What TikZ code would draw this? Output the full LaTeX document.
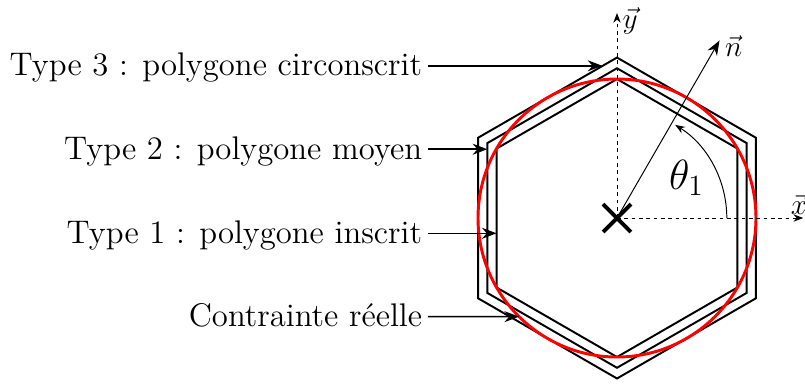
\documentclass[tikz,border=0pt]{standalone}
\usetikzlibrary{arrows.meta}
\begin{document}
\begin{tikzpicture}[thick,
		>={Stealth[length=6pt, width=4.5pt]},
		type/.style={anchor=east, inner sep=2pt, font=\fontsize{13.4}{16}\selectfont, text depth=.25ex},
		axe/.style={thin, dash pattern=on 1.5pt off 1.5pt, -{Stealth[length=4pt]}}
		]
	\useasboundingbox (-8.878,-2.374) rectangle (2.705,3.137);
	% polygones puis contrainte reelle
	\foreach \r in {2, 2.155, 2.309}
		\draw (90:\r) -- (150:\r) -- (210:\r) -- (270:\r) -- (330:\r) -- (30:\r) -- cycle;
	\draw[red, very thick] (0,0) circle (2);
	% repere
	\coordinate (o) at (0,0);
	\coordinate (xe) at (2.68,0);
	\coordinate (ye) at (0,2.95);
	\coordinate (ne) at (60:2.95);
	\draw[axe] (o) -- (xe);
	\draw[axe] (o) -- (ye);
	\draw[thin, ->] (o) -- (ne);
	\node[font=\large] (xl) at (2.62,0.2) {$\vec{x}$};
	\node[font=\large] (yl) at (0.19,2.84) {$\vec{y}$};
	\node[font=\large] (nl) at (1.68,2.47) {$\vec{n}$};
	\draw[thin, -{Stealth[length=4pt]}] (1.58,0) arc (0:58:1.58);
	\node (th) at (1.0,0.58) {\LARGE $\theta_1$};
	\draw[ultra thick] (-0.2,-0.2) -- (0.2,0.2) (-0.2,0.2) -- (0.2,-0.2);
	% legendes
	\node[type] (t3) at (-2.72,2.19) {Type 3 : polygone circonscrit};
	\node[type] (t2) at (-2.72,0.99) {Type 2 : polygone moyen};
	\node[type] (t1) at (-2.72,-0.22) {Type 1 : polygone inscrit};
	\node[type] (tc) at (-2.72,-1.42) {Contrainte r\'eelle};
	\coordinate (p3) at (-0.21,2.19);
	\coordinate (p2) at (-1.866,0.99);
	\coordinate (p1) at (-1.732,-0.22);
	\coordinate (pc) at (225.2:2);
	\draw[semithick, ->] (t3.east) -- (p3);
	\draw[semithick, ->] (t2.east) -- (p2);
	\draw[semithick, ->] (t1.east) -- (p1);
	\draw[semithick, ->] (tc.east) -- (pc);
\end{tikzpicture}
\end{document}
